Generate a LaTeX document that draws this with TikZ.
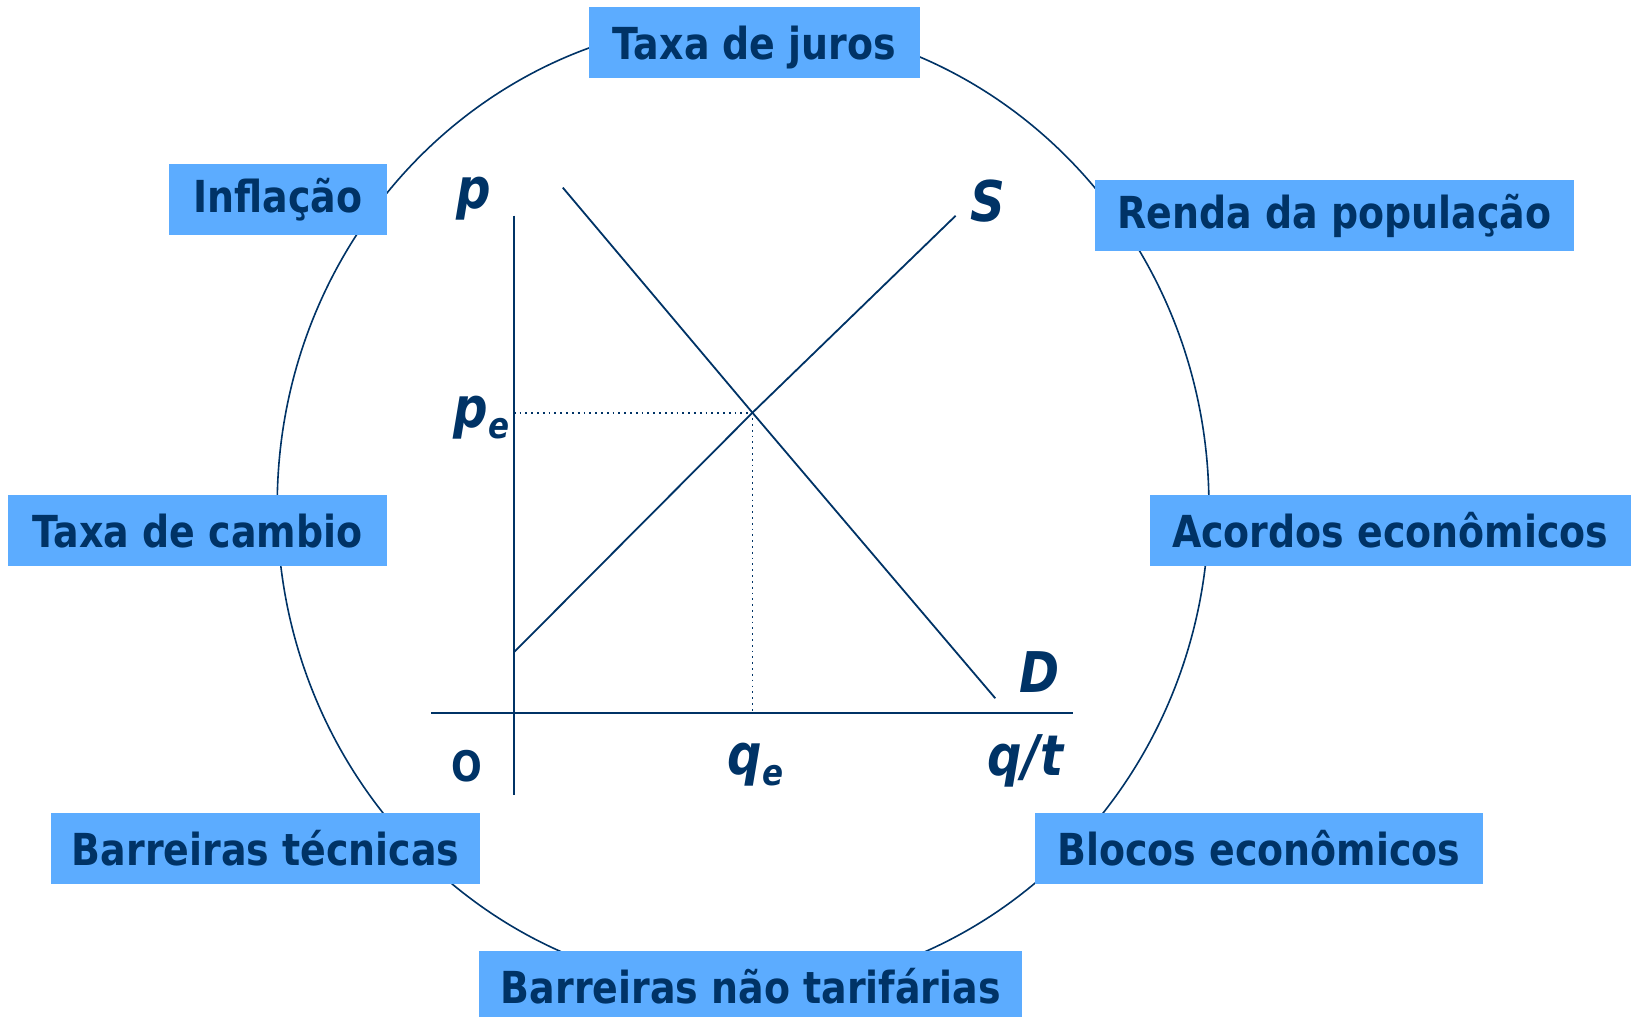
\documentclass[tikz,border=0pt]{standalone}
\usepackage{fontspec}
\setmainfont{DejaVu Sans}[FakeStretch=0.86]
\definecolor{navy}{RGB}{0,51,102}
\definecolor{boxblue}{RGB}{92,172,255}
\begin{document}
\begin{tikzpicture}[x=0.52pt,y=-0.52pt,
  factor/.style={fill=boxblue,draw=none,text=navy,font=\fontsize{22}{22}\selectfont\bfseries,minimum height=35.4pt,inner sep=0pt,text height=17pt,text depth=0pt,anchor=center},
  highfactor/.style={factor,text height=13.2pt},
  curve/.style={draw=navy,line width=0.9pt},
  guide/.style={draw=navy,line width=0.9pt,dotted},
  glabel/.style={text=navy,font=\fontsize{28}{28}\selectfont\bfseries\itshape,inner sep=0pt,anchor=center}]
\useasboundingbox (0,0) rectangle (1565,975);
% surrounding ellipse
\coordinate (ringc) at (713,485);
\draw[navy,line width=0.8pt] (ringc) ellipse [x radius=447*0.52pt, y radius=465*0.52pt];
% axes
\coordinate (ytop) at (493,207);
\coordinate (ybot) at (493,763);
\coordinate (xleft) at (414,684);
\coordinate (xright) at (1030,684);
\draw[curve] (ytop) -- (ybot);
\draw[curve,line width=1.1pt] (xleft) -- (xright);
% curves
\coordinate (eq) at (722,396);
\coordinate (d1) at (540,180);
\coordinate (d2) at (955,670);
\coordinate (s1) at (493,626);
\coordinate (s2) at (917,207);
\coordinate (pe0) at (493,396);
\coordinate (qe0) at (722,684);
\draw[curve] (d1) -- (eq) -- (d2);
\draw[curve] (s1) -- (eq) -- (s2);
\draw[guide] (pe0) -- (eq) -- (qe0);
% graph labels
\node[glabel] (lp) at (455,191) {p};
\node[glabel] (lS) at (948,193) {S};
\node[glabel] (lpe) at (462,401) {p\raisebox{-0.35ex}{\fontsize{18}{18}\selectfont e}};
\node[glabel] (lD) at (997,645) {D};
\node[glabel,font=\fontsize{21}{21}\selectfont\bfseries] (lO) at (448,735) {O};
\node[glabel] (lqe) at (725,734) {q\raisebox{-0.35ex}{\fontsize{18}{18}\selectfont e}};
\node[glabel] (lqt) at (984,730) {q/t};
% factor boxes
\node[factor,minimum width=165.4pt] (juros) at (724,41) {Taxa de juros};
\node[highfactor,minimum width=108.7pt] (infl) at (266.5,191) {Inflação};
\node[highfactor,minimum width=238.7pt] (renda) at (1280.5,206.5) {Renda da população};
\node[factor,minimum width=188.8pt] (cambio) at (189.5,509) {Taxa de cambio};
\node[factor,minimum width=240.2pt] (acordos) at (1334,509) {Acordos econômicos};
\node[factor,minimum width=214.2pt] (tecnicas) at (255,814) {Barreiras técnicas};
\node[factor,minimum width=223.6pt] (blocos) at (1208,814) {Blocos econômicos};
\node[factor,minimum width=270.9pt] (naotar) at (720.5,947) {Barreiras não tarifárias};
\end{tikzpicture}
\end{document}
